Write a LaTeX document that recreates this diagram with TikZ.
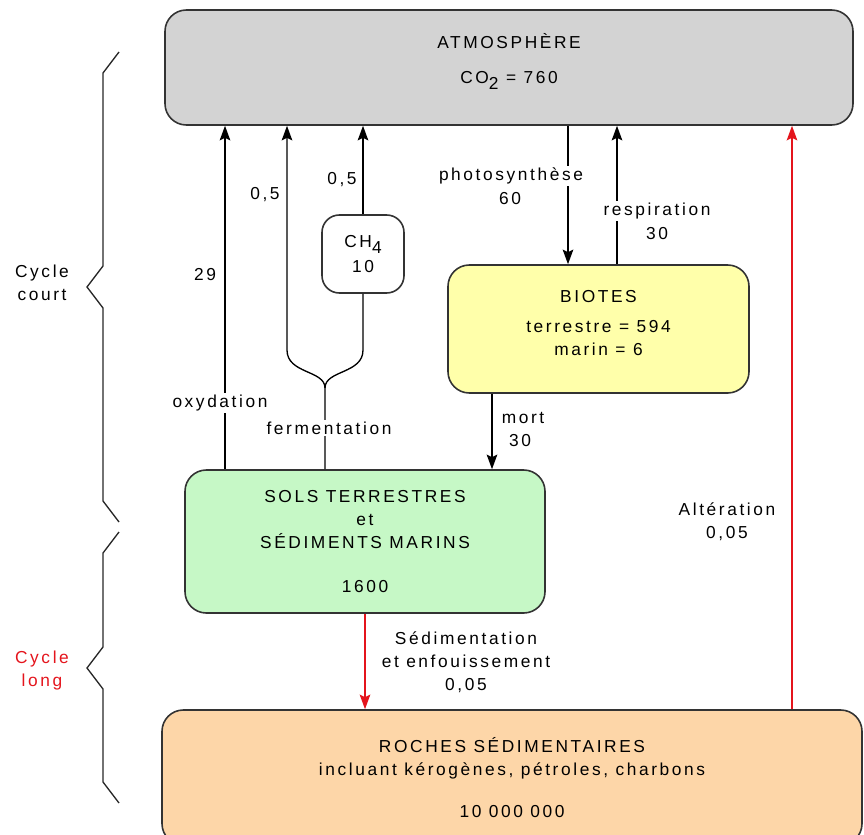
\documentclass[tikz,border=0pt]{standalone}
\usepackage{fontspec}
\setmainfont[LetterSpace=15]{Liberation Sans}
\usepackage{tikz}
\usetikzlibrary{arrows.meta,positioning,calc}

\definecolor{atmgray}{HTML}{D3D3D3}
\definecolor{biotyellow}{HTML}{FFFFAA}
\definecolor{solgreen}{HTML}{C6F8C6}
\definecolor{rocheorange}{HTML}{FDD6A8}
\definecolor{cyclered}{HTML}{E4141C}

\tikzset{
  box/.style={draw=black!80, line width=1.2pt, rounded corners=16pt, align=center, inner sep=0pt},
  flow/.style={line width=1pt, -{Stealth[length=11pt,width=8pt,inset=2pt]}},
  redflow/.style={flow, cyclered},
  lbl/.style={fill=white, inner sep=1.5pt, align=center},
  brace/.style={line width=1pt, black!85, line join=miter}
}

\begin{document}
\begin{tikzpicture}[x=0.75pt, y=-0.75pt, font=\fontsize{13}{17.25}\selectfont]
        \useasboundingbox (0,0) rectangle (864,835);
        \clip (0,0) rectangle (864,835);

        % reservoirs
        \node [box, fill=atmgray, minimum width=516pt, minimum height=86.25pt, text depth=13pt] (atm) at (509,67.5)
            {ATMOSPHÈRE\\[9pt]CO\raisebox{-4pt}{2} = 760};
        \node [box, fill=white, rounded corners=13pt, minimum width=61.5pt, minimum height=58.5pt] (ch4) at (363,254)
            {CH\raisebox{-4pt}{4}\\[1pt]10};
        \node [box, fill=biotyellow, minimum width=225.75pt, minimum height=96pt, text depth=9pt] (biotes) at (598.5,329)
            {BIOTES\\[5pt]terrestre = 594\\marin = 6};
        \node [box, fill=solgreen, minimum width=270pt, minimum height=107.25pt] (sols) at (365,541.5)
            {SOLS TERRESTRES\\et\\SÉDIMENTS MARINS\\[16pt]1600};
        \node [box, fill=rocheorange, minimum width=525pt, minimum height=101.25pt] (roches) at (512,777.5)
            {ROCHES SÉDIMENTAIRES\\incluant kérogènes, pétroles, charbons\\[14pt]10 000 000};

        % cycle court
        \coordinate (fork) at (325,388);
        \draw [flow] (sols.north -| 225,0) -- (atm.south -| 225,0);
        \draw [flow] (sols.north -| fork) -- (fork) .. controls (325,370) and (287,374) .. (287,350) -- (atm.south -| 287,0);
        \draw [line width=1pt] (fork) .. controls (325,370) and (363,374) .. (363,350) -- (ch4.south);
        \draw [flow] (ch4.north) -- (atm.south -| ch4.north);
        \draw [flow] (atm.south -| 568,0) -- (biotes.north -| 568,0);
        \draw [flow] (biotes.north -| 617,0) -- (atm.south -| 617,0);
        \draw [flow] (biotes.south -| 492,0) -- (sols.north -| 492,0);

        % cycle long
        \draw [redflow] (sols.south -| 365,0) -- (roches.north -| 365,0);
        \draw [redflow] (roches.north -| 792,0) -- (atm.south -| 792,0);

        % flux
        \node (oxyval) at (205,275) {29};
        \node [lbl] (oxylbl) at (220,403) {oxydation};
        \node (fermval) at (265,195) {0,5};
        \node (ch4val) at (342,180) {0,5};
        \node [lbl] (fermlbl) at (329,428) {fermentation};
        \node [lbl] (photolbl) at (511,176) {photosynthèse};
        \node (photoval) at (510,199) {60};
        \node [lbl] (resplbl) at (657,211) {respiration};
        \node (respval) at (657,234) {30};
        \node (mortlbl) at (523,418) {mort};
        \node (mortval) at (520,441) {30};
        \node [align=center] (sedlbl) at (466,662) {Sédimentation\\et enfouissement\\0,05};
        \node [align=center] (altlbl) at (727,522) {Altération\\0,05};

        % accolades
        \foreach \btop/\bmid/\bbot in {52/287/522, 532/668/803} {
            \draw [brace] (119,\btop) -- (103,\btop+21) -- (103,\bmid-21) -- (87,\bmid)
                -- (103,\bmid+21) -- (103,\bbot-21) -- (119,\bbot);
        }
        \node [align=center] (court) at (42,283) {Cycle\\court};
        \node [align=center, cyclered] (long) at (42,671) {Cycle\\long};
\end{tikzpicture}
\end{document}
